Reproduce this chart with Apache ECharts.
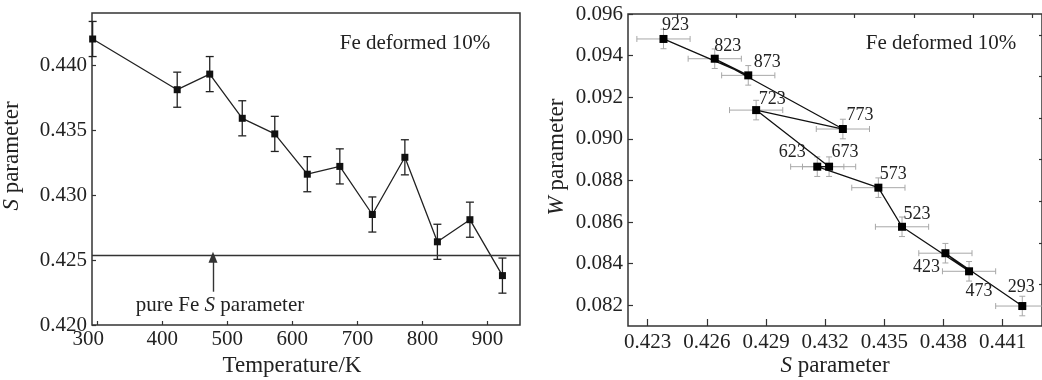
<!DOCTYPE html>
<html><head><meta charset="utf-8">
<script src="https://cdn.jsdelivr.net/npm/echarts@6/dist/echarts.min.js"></script>
<style>html,body{margin:0;padding:0;background:#fff}#c{width:1042px;height:380px}</style>
</head><body><div id="c"></div>
<script>
// ---- data ----
const temperatures = [293, 423, 473, 523, 573, 623, 673, 723, 773, 823, 873, 923];
const sParam = [0.4420, 0.4381, 0.4393, 0.4359, 0.4347, 0.4316, 0.4322, 0.4285, 0.4329, 0.4264, 0.4281, 0.4238];
const sErr   = [0.00135, 0.00135, 0.00135, 0.00135, 0.00135, 0.00135, 0.00135, 0.00135, 0.00135, 0.00135, 0.00135, 0.00135];
const wParam = [0.08196, 0.08450, 0.08363, 0.08577, 0.08765, 0.08866, 0.08866, 0.09138, 0.09047, 0.09385, 0.09305, 0.09480];
const wErr   = [0.00047, 0.00047, 0.00047, 0.00047, 0.00047, 0.00047, 0.00047, 0.00047, 0.00047, 0.00047, 0.00047, 0.00047];
const pureFeS = 0.42533;
const pureFeArrowT = 478;
const tempTicks = [300, 400, 500, 600, 700, 800, 900];
const sLeftTicks = [0.420, 0.425, 0.430, 0.435, 0.440];
const sRightTicks = [0.423, 0.426, 0.429, 0.432, 0.435, 0.438, 0.441];
const sRightMinor = [0.4245, 0.4275, 0.4305, 0.4335, 0.4365, 0.4395, 0.4425];
const wTicks = [0.082, 0.084, 0.086, 0.088, 0.090, 0.092, 0.094, 0.096];
const wMinor = [0.083, 0.085, 0.087, 0.089, 0.091, 0.093, 0.095];

// ---- label placement (style, px offsets from point centre) ----
const labelOffsets = {
  293: [-1, -19], 423: [-19, 14], 473: [10, 20], 523: [15, -13], 573: [15, -13],
  623: [-25, -14], 673: [16, -14], 723: [16, -11], 773: [17, -14], 823: [13, -12],
  873: [19, -13], 923: [12, -14]
};

const FONT = 'Liberation Serif';
const INK = '#222';

const leftLine = temperatures.map((t, i) => [t, sParam[i]]);
const leftErr = temperatures.map((t, i) => [t, sParam[i], 0, sErr[i]]);
const rightLine = temperatures.map((t, i) => [sParam[i], wParam[i]]);
const rightErr = temperatures.map((t, i) => [sParam[i], wParam[i], sErr[i], wErr[i]]);
const rightLabels = temperatures.map((t, i) => [sParam[i], wParam[i], t]);

function errBars(color, cap, lw) {
  return function (params, api) {
    const x = api.value(0), y = api.value(1), ex = api.value(2), ey = api.value(3);
    const c = api.coord([x, y]);
    const children = [];
    const st = { stroke: color, lineWidth: lw };
    if (ey > 0) {
      const t = api.coord([x, y + ey]), b = api.coord([x, y - ey]);
      children.push({ type: 'line', shape: { x1: c[0], y1: t[1], x2: c[0], y2: b[1] }, style: st });
      children.push({ type: 'line', shape: { x1: c[0] - cap, y1: t[1], x2: c[0] + cap, y2: t[1] }, style: st });
      children.push({ type: 'line', shape: { x1: c[0] - cap, y1: b[1], x2: c[0] + cap, y2: b[1] }, style: st });
    }
    if (ex > 0) {
      const l = api.coord([x - ex, y]), r = api.coord([x + ex, y]);
      children.push({ type: 'line', shape: { x1: l[0], y1: c[1], x2: r[0], y2: c[1] }, style: st });
      children.push({ type: 'line', shape: { x1: l[0], y1: c[1] - cap, x2: l[0], y2: c[1] + cap }, style: st });
      children.push({ type: 'line', shape: { x1: r[0], y1: c[1] - cap, x2: r[0], y2: c[1] + cap }, style: st });
    }
    return { type: 'group', children };
  };
}

function pointLabels(params, api) {
  const t = api.value(2);
  const c = api.coord([api.value(0), api.value(1)]);
  const off = labelOffsets[t] || [0, -14];
  return { type: 'text', x: c[0] + off[0], y: c[1] + off[1],
    style: { text: String(t), fontFamily: FONT, fontSize: 18, fill: INK, align: 'center', verticalAlign: 'middle' } };
}

const axisText = { color: INK, fontFamily: FONT, fontSize: 21 };
function txt(x, y, text, size, rot, italicRich) {
  const el = { type: 'text', x, y, style: { text, fontFamily: FONT, fontSize: size, fill: INK, align: 'center', verticalAlign: 'middle' } };
  if (rot) el.rotation = rot;
  if (italicRich) el.style.rich = { i: { fontStyle: 'italic', fontFamily: FONT, fontSize: size, fill: INK } };
  return el;
}

const chart = echarts.init(document.getElementById('c'), null, { renderer: 'canvas' });
chart.setOption({
  animation: false,
  backgroundColor: '#fff',
  textStyle: { fontFamily: FONT },
  grid: [
    { left: 92, top: 13, right: 522, bottom: 55, show: true, borderColor: '#333', borderWidth: 1.5, backgroundColor: 'transparent' },
    { left: 628, top: 14, right: -5, bottom: 54, show: true, borderColor: '#333', borderWidth: 1.5, backgroundColor: 'transparent' }
  ],
  xAxis: [
    { type: 'value', gridIndex: 0, min: 292, max: 950,
      axisLine: { show: false }, splitLine: { show: false },
      axisTick: { inside: true, length: 4, customValues: tempTicks, lineStyle: { color: '#333', width: 1.2 } },
      axisLabel: Object.assign({ margin: 4, customValues: tempTicks,
        formatter: v => v === tempTicks[0] ? '{first|' + v + '}' : String(v),
        rich: { first: { fontFamily: FONT, fontSize: 21, color: INK, padding: [0, 18, 0, 0] } } }, axisText) },
    { type: 'value', gridIndex: 1, min: 0.422, max: 0.443,
      axisLine: { show: false }, splitLine: { show: false },
      axisTick: { inside: true, length: 7, customValues: sRightTicks, lineStyle: { color: '#333', width: 1.2 } },
      axisLabel: Object.assign({ margin: 6, customValues: sRightTicks, formatter: v => v.toFixed(3) }, axisText) },
    { type: 'value', gridIndex: 1, min: 0.422, max: 0.443,
      axisLine: { show: false }, splitLine: { show: false }, axisLabel: { show: false },
      axisTick: { inside: true, length: 4, customValues: sRightMinor, lineStyle: { color: '#333', width: 1.2 } } }
  ],
  yAxis: [
    { type: 'value', gridIndex: 0, min: 0.420, max: 0.444,
      axisLine: { show: false }, splitLine: { show: false },
      axisTick: { inside: true, length: 4, customValues: sLeftTicks, lineStyle: { color: '#333', width: 1.2 } },
      axisLabel: Object.assign({ margin: 5, customValues: sLeftTicks, formatter: v => v.toFixed(3) }, axisText) },
    { type: 'value', gridIndex: 1, min: 0.081, max: 0.096,
      axisLine: { show: false }, splitLine: { show: false },
      axisTick: { inside: true, length: 5, customValues: wTicks, lineStyle: { color: '#333', width: 1.2 } },
      axisLabel: Object.assign({ margin: 5, customValues: wTicks, formatter: v => v.toFixed(3) }, axisText) },
    { type: 'value', gridIndex: 1, min: 0.081, max: 0.096,
      axisLine: { show: false }, splitLine: { show: false }, axisLabel: { show: false },
      axisTick: { inside: true, length: 3, customValues: wMinor, lineStyle: { color: '#333', width: 1.2 } } }
  ],
  series: [
    { type: 'custom', xAxisIndex: 0, yAxisIndex: 0, data: leftErr, z: 3,
      renderItem: errBars('#222', 4, 1.3), encode: { x: 0, y: 1 } },
    { type: 'line', xAxisIndex: 0, yAxisIndex: 0, data: leftLine, z: 4,
      symbol: 'rect', symbolSize: 7, showAllSymbol: true,
      itemStyle: { color: '#111' }, lineStyle: { color: '#222', width: 1.3 },
      markLine: {
        silent: true, animation: false, symbol: ['none', 'none'],
        label: { show: false },
        lineStyle: { color: '#333', width: 1.4, type: 'solid' },
        data: [
          [ { coord: [292, pureFeS] }, { coord: [950, pureFeS] } ],
          [ { coord: [pureFeArrowT, 0.42256], symbol: 'none' },
            { coord: [pureFeArrowT, 0.42522], symbol: 'triangle', symbolSize: [9, 11] } ]
        ]
      } },
    { type: 'custom', xAxisIndex: 1, yAxisIndex: 1, data: rightErr, z: 2,
      renderItem: errBars('#a8a8a8', 3, 1), encode: { x: 0, y: 1 } },
    { type: 'line', xAxisIndex: 1, yAxisIndex: 1, data: rightLine, z: 4,
      symbol: 'rect', symbolSize: 8, showAllSymbol: true,
      itemStyle: { color: '#000' }, lineStyle: { color: '#111', width: 1.3 } },
    { type: 'custom', xAxisIndex: 1, yAxisIndex: 1, data: rightLabels, z: 5,
      renderItem: pointLabels, encode: { x: 0, y: 1 } }
  ],
  graphic: [
    txt(415, 43, 'Fe deformed 10%', 21),
    txt(941, 43, 'Fe deformed 10%', 21),
    txt(220, 305, 'pure Fe {i|S} parameter', 21, 0, true),
    txt(292, 366, 'Temperature/K', 23),
    txt(835, 366, '{i|S} parameter', 23, 0, true),
    txt(12, 156, '{i|S} parameter', 23, Math.PI / 2, true),
    txt(557, 157, '{i|W} parameter', 23, Math.PI / 2, true)
  ]
});
</script>
</body></html>
